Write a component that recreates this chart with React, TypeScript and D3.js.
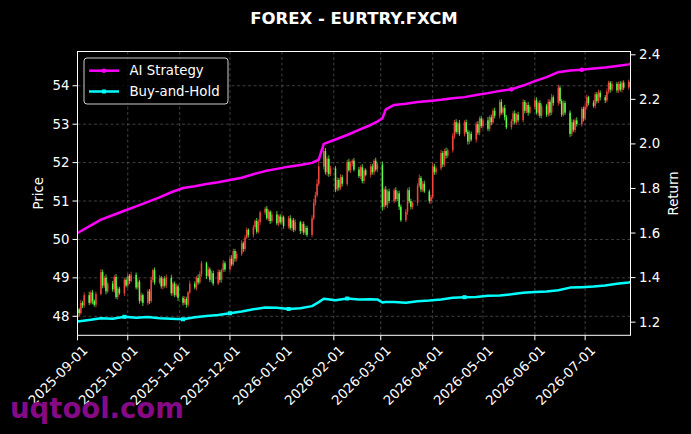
import React from 'react';
import * as d3 from 'd3';

const W = 691;
const H = 434;
const PLOT = { left: 77.5, right: 630.5, top: 51.5, bottom: 335.3 };

const title = 'FOREX - EURTRY.FXCM';
const watermark = 'uqtool.com';
const firstDay = '2025-09-01';
const lastDay = '2026-07-28';
const firstOpen = 47.95;

// daily closes (weekdays), week by week
const closes = [
  48.18, 48.08, 48.35, 48.28, 48.55,
  48.35, 48.62, 48.40, 48.30, 48.58,
  49.15, 48.80, 49.00, 48.65, 48.85,
  48.70, 49.02, 48.50, 48.72, 48.60,
  48.95, 48.80, 49.05, 48.92, 49.08,
  48.75, 48.90, 48.40, 48.55, 48.35,
  48.65, 48.40, 48.95, 49.20, 48.88,
  49.00, 48.78, 48.98, 48.80, 49.00,
  48.60, 48.85, 48.55, 48.78, 48.48,
  48.35, 48.45, 48.30, 48.62, 48.85,
  48.75, 49.00, 48.88, 49.10, 49.38,
  49.05, 49.22, 48.95, 49.12, 48.85,
  49.15, 48.95, 49.20, 49.38, 49.22,
  49.50, 49.35, 49.70, 49.50, 49.62,
  49.90, 49.75, 50.05, 50.25, 50.12,
  50.32, 50.48, 50.20, 50.45, 50.70,
  50.80, 50.55, 50.72, 50.48, 50.65,
  50.42, 50.60, 50.45, 50.58, 50.35,
  50.55, 50.30, 50.50, 50.25, 50.45,
  50.22, 50.40, 50.18, 50.30, 50.12,
  50.55, 50.95, 51.15, 51.45, 51.90,
  52.30, 51.75, 52.10, 51.70, 51.85,
  51.30, 51.55, 51.35, 51.62, 51.45,
  52.02, 51.80, 51.98, 52.05, 51.82,
  51.65, 51.88, 51.52, 51.80, 51.68,
  51.90, 51.75, 52.05, 51.82, 51.95,
  50.85, 51.30, 50.90, 51.25, 51.00,
  51.28, 51.05, 51.20, 50.85, 50.50,
  50.72, 51.28, 51.00, 50.85, 50.95,
  51.40, 51.60, 51.30, 51.45, 51.25,
  51.00, 51.10, 51.90, 51.75, 51.85,
  52.25, 51.95, 52.30, 52.18, 52.32,
  52.70, 53.05, 52.80, 53.02, 52.75,
  53.05, 52.80, 52.55, 52.75, 52.60,
  53.00, 52.78, 53.15, 52.95, 53.10,
  52.88, 53.18, 53.05, 53.35, 53.22,
  53.58, 53.30, 53.42, 53.18, 52.92,
  53.08, 53.28, 53.05, 53.25, 53.10,
  53.58, 53.35, 53.50, 53.30, 53.45,
  53.62, 53.30, 53.55, 53.22, 53.48,
  53.25, 53.58, 53.30, 53.70, 53.55,
  53.95, 53.60, 53.25, 53.55, 53.30,
  52.75, 53.05, 52.85, 53.10, 53.00,
  53.40, 53.15, 53.45, 53.70, 53.55,
  53.48, 53.78, 53.60, 53.82, 53.70,
  53.62, 53.85, 54.08, 53.90, 54.05,
  53.88, 54.05, 53.90, 54.08, 53.95,
  54.10, 53.98,
];

// upper / lower wick beyond the body, in hundredths
const upperWick = [
  6, 4, 8, 5, 7, 9, 5, 7, 4, 6, 8, 6, 5, 9, 4, 7, 5, 8, 6, 5,
  4, 7, 6, 5, 8, 6, 9, 5, 7, 4, 5, 6, 8, 4, 7, 7, 5, 4, 6, 9,
  8, 4, 6, 7, 5, 5, 7, 6, 4, 8, 6, 5, 9, 7, 6, 4, 8, 5, 6, 7,
  7, 6, 4, 8, 5, 5, 9, 6, 5, 7, 8, 5, 7, 6, 4, 6, 4, 8, 7, 5,
  5, 7, 6, 4, 8, 9, 5, 6, 7, 4, 6, 8, 5, 6, 7, 4, 6, 7, 5, 6,
  8, 10, 9, 12, 15, 10, 8, 6, 9, 7, 6, 7, 5, 8, 6, 5, 8, 6, 4, 7,
  7, 5, 8, 6, 5, 6, 7, 4, 8, 6, 8, 6, 9, 5, 7, 5, 8, 6, 7, 6,
  7, 5, 8, 6, 4, 6, 9, 5, 7, 8, 5, 6, 10, 7, 6, 8, 5, 6, 9, 5,
  7, 6, 8, 5, 9, 5, 7, 6, 8, 6, 6, 8, 5, 7, 4, 9, 5, 7, 6, 8,
  6, 7, 5, 8, 6, 5, 6, 8, 4, 7, 7, 5, 6, 8, 5, 6, 8, 4, 7, 6,
  5, 7, 6, 9, 5, 8, 6, 5, 7, 6, 6, 9, 7, 5, 8, 5, 6, 8, 7, 4,
  7, 5, 6, 8, 6, 6, 8, 5, 4, 7, 5, 6, 7, 5, 6, 6, 5,
];
const lowerWick = [
  5, 8, 4, 7, 6, 6, 4, 9, 5, 7, 4, 7, 6, 8, 5, 6, 8, 5, 7, 4,
  7, 5, 6, 8, 4, 5, 6, 7, 4, 8, 6, 8, 5, 7, 6, 4, 6, 8, 5, 7,
  6, 7, 5, 4, 8, 7, 5, 8, 6, 4, 5, 8, 6, 4, 7, 8, 4, 6, 7, 5,
  4, 7, 8, 5, 6, 6, 5, 4, 8, 7, 5, 8, 6, 4, 7, 7, 6, 5, 4, 8,
  6, 4, 7, 8, 5, 5, 8, 6, 4, 7, 7, 5, 8, 6, 4, 8, 5, 6, 7, 5,
  6, 5, 7, 5, 6, 8, 6, 9, 7, 5, 7, 5, 8, 6, 7, 6, 4, 7, 8, 5,
  5, 8, 6, 7, 4, 7, 6, 8, 5, 7, 10, 7, 5, 8, 6, 6, 7, 5, 8, 4,
  5, 8, 6, 7, 6, 8, 5, 7, 6, 4, 6, 8, 5, 7, 6, 5, 7, 6, 8, 6,
  6, 8, 5, 7, 6, 7, 5, 8, 6, 5, 8, 6, 7, 5, 6, 6, 7, 8, 5, 7,
  7, 5, 6, 8, 5, 6, 8, 5, 7, 6, 5, 7, 6, 8, 4, 7, 5, 8, 6, 7,
  6, 5, 8, 6, 7, 7, 8, 6, 5, 6, 8, 6, 5, 7, 6, 6, 8, 5, 7, 6,
  5, 7, 6, 5, 8, 7, 5, 6, 8, 5, 6, 7, 5, 8, 6, 5, 6,
];

// strategy return curves (right axis)
const returnDates = [
  '2025-09-01', '2025-09-08', '2025-09-15', '2025-09-22', '2025-09-29',
  '2025-10-06', '2025-10-13', '2025-10-20', '2025-10-27', '2025-11-03',
  '2025-11-10', '2025-11-17', '2025-11-24', '2025-12-01', '2025-12-08',
  '2025-12-15', '2025-12-22', '2025-12-29', '2026-01-05', '2026-01-12',
  '2026-01-19', '2026-01-23', '2026-01-26', '2026-02-02', '2026-02-09',
  '2026-02-16', '2026-02-23', '2026-02-27', '2026-03-02', '2026-03-04',
  '2026-03-09', '2026-03-16', '2026-03-23', '2026-03-30', '2026-04-06',
  '2026-04-13', '2026-04-20', '2026-04-27', '2026-05-04', '2026-05-11',
  '2026-05-18', '2026-05-25', '2026-06-01', '2026-06-08', '2026-06-15',
  '2026-06-22', '2026-06-29', '2026-07-06', '2026-07-13', '2026-07-20',
  '2026-07-27', '2026-07-28',
];
const aiStrategy = [
  1.600, 1.630, 1.660, 1.680, 1.700, 1.720, 1.740, 1.760, 1.783, 1.802,
  1.810, 1.820, 1.828, 1.838, 1.848, 1.864, 1.878, 1.888, 1.898, 1.905,
  1.915, 1.930, 2.000, 2.020, 2.040, 2.063, 2.085, 2.100, 2.115, 2.155,
  2.175, 2.180, 2.188, 2.193, 2.198, 2.205, 2.210, 2.220, 2.228, 2.238,
  2.245, 2.262, 2.282, 2.300, 2.322, 2.330, 2.333, 2.338, 2.343, 2.350,
  2.357, 2.360,
];
const buyHold = [
  1.203, 1.210, 1.218, 1.215, 1.224, 1.220, 1.223, 1.218, 1.215, 1.213,
  1.222, 1.228, 1.232, 1.240, 1.248, 1.258, 1.266, 1.265, 1.259, 1.262,
  1.272, 1.290, 1.305, 1.298, 1.306, 1.302, 1.303, 1.302, 1.288, 1.290,
  1.290, 1.287, 1.294, 1.297, 1.302, 1.310, 1.312, 1.313, 1.318, 1.320,
  1.325, 1.332, 1.335, 1.338, 1.343, 1.355, 1.357, 1.360, 1.365, 1.372,
  1.378, 1.380,
];
const aiMarkerIdx = [40, 46];
const bhMarkerIdx = [4, 9, 13, 18, 24, 36];

const priceTicks = [48, 49, 50, 51, 52, 53, 54];
const returnTicks = [1.2, 1.4, 1.6, 1.8, 2.0, 2.2, 2.4];
const monthTicks = [
  '2025-09-01', '2025-10-01', '2025-11-01', '2025-12-01', '2026-01-01', '2026-02-01',
  '2026-03-01', '2026-04-01', '2026-05-01', '2026-06-01', '2026-07-01',
];
const legendLabels = ['AI Strategy', 'Buy-and-Hold'];

const UP = '#f2453d';
const DOWN = '#5cff4a';
const AI_COLOR = '#ff00ff';
const BH_COLOR = '#00ffff';
const FONT = '"DejaVu Sans", Verdana, sans-serif';

const parse = d3.timeParse('%Y-%m-%d');

export default function App() {
  const start = parse(firstDay)!;
  const end = parse(lastDay)!;
  const days = d3.timeDay.range(start, d3.timeDay.offset(end, 1)).filter((d) => d.getDay() !== 0 && d.getDay() !== 6);

  const x = d3.scaleTime().domain([start, d3.timeHour.offset(end, 2)]).range([PLOT.left, PLOT.right]);
  const yP = d3.scaleLinear().domain([47.505, 54.892]).range([PLOT.bottom, PLOT.top]);
  const yR = d3.scaleLinear().domain([1.141, 2.4148]).range([PLOT.bottom, PLOT.top]);

  const candles = days.map((d, i) => {
    const o = i === 0 ? firstOpen : closes[i - 1];
    const c = closes[i];
    const hi = Math.max(o, c) + upperWick[i] / 100;
    const lo = Math.min(o, c) - lowerWick[i] / 100;
    return { d, o, c, hi, lo };
  });

  const rDates = returnDates.map((s) => parse(s)!);
  const line = (vals: number[]) =>
    d3.line<number>().x((_, i) => x(rDates[i])).y((v) => yR(v))(vals) || '';

  const fmt = d3.timeFormat('%Y-%m-%d');
  const pw = PLOT.right - PLOT.left;
  const ph = PLOT.bottom - PLOT.top;

  return (
    <svg width={W} height={H} style={{ display: 'block', position: 'absolute', left: 0, top: 0, background: '#000' }}
      fontFamily={FONT}>
      <rect x={0} y={0} width={W} height={H} fill="#000" />
      <defs>
        <clipPath id="plotclip">
          <rect x={PLOT.left} y={PLOT.top} width={pw} height={ph} />
        </clipPath>
      </defs>
      <text x={(PLOT.left + PLOT.right) / 2} y={24} fill="#fff" fontSize={16.5} fontWeight="bold" textAnchor="middle">
        {title}
      </text>

      {/* grid */}
      <g stroke="#5a5a5a" strokeWidth={0.7} strokeDasharray="3,2.5">
        {monthTicks.map((t) => (
          <line key={t} x1={x(parse(t)!)} x2={x(parse(t)!)} y1={PLOT.top} y2={PLOT.bottom} />
        ))}
        {priceTicks.map((t) => (
          <line key={t} x1={PLOT.left} x2={PLOT.right} y1={yP(t)} y2={yP(t)} />
        ))}
      </g>

      {/* candles */}
      <g clipPath="url(#plotclip)">
        {candles.map((k, i) => {
          const col = k.c >= k.o ? UP : DOWN;
          const cx = x(k.d);
          const top = yP(Math.max(k.o, k.c));
          const bot = yP(Math.min(k.o, k.c));
          return (
            <g key={i}>
              <line x1={cx} x2={cx} y1={yP(k.hi)} y2={yP(k.lo)} stroke={col} strokeWidth={0.8} />
              <rect x={cx - 0.75} y={top} width={1.5} height={Math.max(0.8, bot - top)} fill={col} />
            </g>
          );
        })}
      </g>

      {/* return lines */}
      <g clipPath="url(#plotclip)">
        <path d={line(buyHold)} fill="none" stroke={BH_COLOR} strokeWidth={2.5} strokeLinejoin="round" />
        <path d={line(aiStrategy)} fill="none" stroke={AI_COLOR} strokeWidth={2.5} strokeLinejoin="round" />
        {bhMarkerIdx.map((i) => (
          <rect key={'b' + i} x={x(rDates[i]) - 2} y={yR(buyHold[i]) - 2} width={4} height={4} fill={BH_COLOR} />
        ))}
        {aiMarkerIdx.map((i) => (
          <circle key={'a' + i} cx={x(rDates[i])} cy={yR(aiStrategy[i])} r={2.3} fill={AI_COLOR} />
        ))}
      </g>

      {/* frame */}
      <rect x={PLOT.left} y={PLOT.top} width={pw} height={ph} fill="none" stroke="#fff" strokeWidth={1} />

      {/* axes */}
      <g fill="#fff" fontSize={13.3}>
        {priceTicks.map((t) => (
          <g key={t}>
            <line x1={PLOT.left - 5} x2={PLOT.left} y1={yP(t)} y2={yP(t)} stroke="#fff" />
            <text x={PLOT.left - 8} y={yP(t)} textAnchor="end" dominantBaseline="central">
              {t}
            </text>
          </g>
        ))}
        {returnTicks.map((t) => (
          <g key={t}>
            <line x1={PLOT.right} x2={PLOT.right + 5} y1={yR(t)} y2={yR(t)} stroke="#fff" />
            <text x={PLOT.right + 8.5} y={yR(t)} textAnchor="start" dominantBaseline="central">
              {t.toFixed(1)}
            </text>
          </g>
        ))}
        {monthTicks.map((t) => {
          const tx = x(parse(t)!);
          return (
            <g key={t}>
              <line x1={tx} x2={tx} y1={PLOT.bottom} y2={PLOT.bottom + 5} stroke="#fff" />
              <text transform={`translate(${tx + 4},${PLOT.bottom + 9}) rotate(-45)`} textAnchor="end" dy="0.75em">
                {fmt(parse(t)!)}
              </text>
            </g>
          );
        })}
        <text transform={`translate(43,${(PLOT.top + PLOT.bottom) / 2}) rotate(-90)`} textAnchor="middle">
          Price
        </text>
        <text transform={`translate(678,${(PLOT.top + PLOT.bottom) / 2}) rotate(-90)`} textAnchor="middle">
          Return
        </text>
      </g>

      {/* legend */}
      <g>
        <rect x={84} y={58} width={144} height={46} rx={3} fill="#000" fillOpacity={0.8} stroke="#cccccc" strokeWidth={1} />
        <line x1={89} x2={119} y1={70.7} y2={70.7} stroke={AI_COLOR} strokeWidth={2.5} />
        <circle cx={104} cy={70.7} r={2.3} fill={AI_COLOR} />
        <text x={129.5} y={70.7} fill="#fff" fontSize={13.3} dominantBaseline="central">
          {legendLabels[0]}
        </text>
        <line x1={89} x2={119} y1={91.5} y2={91.5} stroke={BH_COLOR} strokeWidth={2.5} />
        <rect x={102} y={89.5} width={4} height={4} fill={BH_COLOR} />
        <text x={129.5} y={91.5} fill="#fff" fontSize={13.3} dominantBaseline="central">
          {legendLabels[1]}
        </text>
      </g>

      {/* watermark */}
      <text x={10} y={418} fill="#860a86" fontSize={27.5} fontWeight="bold">
        {watermark}
      </text>
    </svg>
  );
}
